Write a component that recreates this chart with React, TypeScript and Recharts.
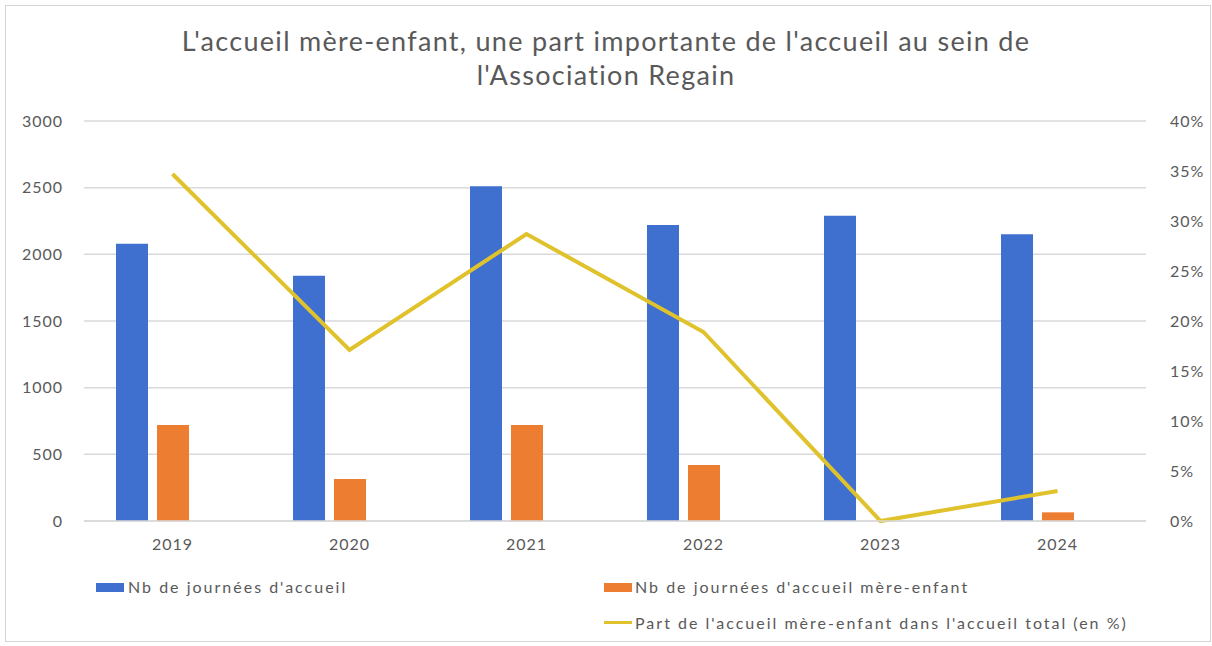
import { ComposedChart, Bar, Line, XAxis, YAxis, CartesianGrid } from 'recharts';

const years = ['2019', '2020', '2021', '2022', '2023', '2024'];
const journeesAccueil = [2080, 1840, 2510, 2220, 2290, 2150];
const journeesMereEnfant = [720, 315, 720, 420, 0, 65];
const partMereEnfant = [34.7, 17.1, 28.7, 18.9, 0, 3.0];

const leftTicks = [0, 500, 1000, 1500, 2000, 2500, 3000];
const rightTicks = [0, 5, 10, 15, 20, 25, 30, 35, 40];

const title = ["L'accueil mère-enfant, une part importante de l'accueil au sein de", "l'Association Regain"];
const legendLabels = [
  "Nb de journées d'accueil",
  "Nb de journées d'accueil mère-enfant",
  "Part de l'accueil mère-enfant dans l'accueil total (en %)",
];

const BLUE = '#3F6FCF';
const ORANGE = '#ED7D31';
const YELLOW = '#E0C22C';
const TEXT = '#595959';
const GRID = '#d9d9d9';
const FONT = 'Lato, "Open Sans", sans-serif';

const data = years.map((year, i) => ({
  year,
  accueil: journeesAccueil[i],
  mereEnfant: journeesMereEnfant[i],
  part: partMereEnfant[i],
}));

const tickStyle = { fill: TEXT, fontSize: 16, fontFamily: FONT, letterSpacing: 1 };

const App = () => {
  return (
    <div style={{ position: 'absolute', left: 0, top: 0, width: 1212, height: 646, background: '#fff', fontFamily: FONT }}>
      <div style={{ position: 'absolute', left: 5, top: 5, width: 1204, height: 635, border: '1px solid #d4d4d4' }} />

      <div style={{ position: 'absolute', left: 0, top: 24, width: 1212, textAlign: 'center', color: TEXT, fontSize: 27, lineHeight: '34px', letterSpacing: 1.3 }}>
        {title.map((t) => (
          <div key={t}>{t}</div>
        ))}
      </div>

      <ComposedChart
        width={1212}
        height={646}
        data={data}
        margin={{ top: 121, right: 0, left: 10, bottom: 95 }}
        barSize={32}
        barGap={9}
        style={{ position: 'absolute', left: 0, top: 0 }}
      >
        <CartesianGrid yAxisId="left" vertical={false} stroke={GRID} strokeWidth={1.5} />
        <XAxis
          dataKey="year"
          height={30}
          tickLine={false}
          axisLine={{ stroke: GRID, strokeWidth: 1.5 }}
          tick={tickStyle}
          tickMargin={12}
        />
        <YAxis
          yAxisId="left"
          width={74}
          domain={[0, 3000]}
          ticks={leftTicks}
          axisLine={false}
          tickLine={false}
          tickMargin={15}
          tick={tickStyle}
        />
        <YAxis
          yAxisId="right"
          orientation="right"
          width={66}
          domain={[0, 40]}
          ticks={rightTicks}
          axisLine={false}
          tickLine={false}
          tickMargin={18}
          tick={tickStyle}
          tickFormatter={(v: number) => `${v}%`}
        />
        <Bar yAxisId="left" dataKey="accueil" fill={BLUE} isAnimationActive={false} />
        <Bar yAxisId="left" dataKey="mereEnfant" fill={ORANGE} isAnimationActive={false} />
        {/* empty slot kept by the original chart next to the two columns */}
        <Bar yAxisId="left" dataKey="vide" fill="none" isAnimationActive={false} />
        <Line
          yAxisId="right"
          dataKey="part"
          stroke={YELLOW}
          strokeWidth={4}
          dot={false}
          isAnimationActive={false}
        />
      </ComposedChart>

      <div style={{ position: 'absolute', left: 0, top: 0, color: TEXT, fontSize: 16, letterSpacing: 2 }}>
        <div style={{ position: 'absolute', left: 96, top: 583, width: 28, height: 9, background: BLUE }} />
        <div style={{ position: 'absolute', left: 128, top: 577, whiteSpace: 'nowrap', lineHeight: '20px' }}>{legendLabels[0]}</div>
        <div style={{ position: 'absolute', left: 604, top: 583, width: 28, height: 9, background: ORANGE }} />
        <div style={{ position: 'absolute', left: 635, top: 577, whiteSpace: 'nowrap', lineHeight: '20px' }}>{legendLabels[1]}</div>
        <div style={{ position: 'absolute', left: 604, top: 621, width: 28, height: 3, background: YELLOW }} />
        <div style={{ position: 'absolute', left: 635, top: 613, whiteSpace: 'nowrap', lineHeight: '20px' }}>{legendLabels[2]}</div>
      </div>
    </div>
  );
};

export default App;
